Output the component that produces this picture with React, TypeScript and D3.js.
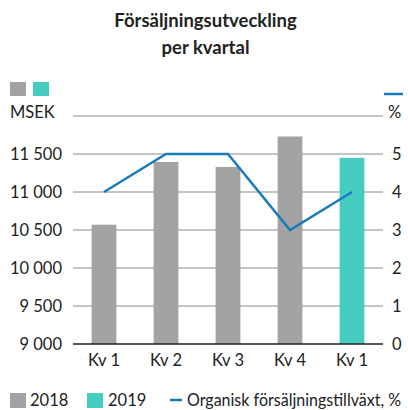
import React from "react";
import * as d3 from "d3";

const categories = ["Kv 1", "Kv 2", "Kv 3", "Kv 4", "Kv 1 "];
const salesValues = [10570, 11395, 11330, 11730, 11450];
const barYears = ["2018", "2018", "2018", "2018", "2019"];
const growthValues = [4, 5, 5, 3, 4];
const leftTicks = [9000, 9500, 10000, 10500, 11000, 11500];
const rightTicks = [0, 1, 2, 3, 4, 5];
const titleLines = ["Försäljningsutveckling", "per kvartal"];

const GRAY = "#a2a3a2";
const TEAL = "#45cec0";
const BLUE = "#1a7bbb";
const FONT = "Lato, 'Open Sans', 'DejaVu Sans', sans-serif";

const fmt = (v: number) => {
  const s = String(v);
  return s.length > 3 ? s.slice(0, s.length - 3) + " " + s.slice(-3) : s;
};

export default function App() {
  const W = 408, H = 410;
  const left = 73, right = 383, top = 116, bottom = 344;
  const x = d3.scaleBand<string>().domain(categories).range([left, right]).paddingInner(0.6).paddingOuter(0.3);
  const y = d3.scaleLinear().domain([9000, 12000]).range([bottom, top]);
  const y2 = d3.scaleLinear().domain([0, 6]).range([bottom, top]);
  const line = d3
    .line<number>()
    .x((_, i) => (x(categories[i]) as number) + x.bandwidth() / 2)
    .y((d) => y2(d));

  return (
    <svg width={W} height={H} style={{ position: "absolute", left: 0, top: 0 }} fontFamily={FONT}>
      {titleLines.map((t, i) => (
        <text key={i} x={205.5} y={27 + i * 26.5} textAnchor="middle" fontSize={18.5} fontWeight={700} fill="#222">
          {t}
        </text>
      ))}
      <rect x={10} y={82} width={16} height={14} fill={GRAY} />
      <rect x={33} y={82} width={16} height={14} fill={TEAL} />
      <line x1={384} x2={403} y1={94} y2={94} stroke={BLUE} strokeWidth={2.5} />
      <text x={10} y={118} fontSize={16.5} fill="#222">MSEK</text>
      <text x={388} y={118} fontSize={16.5} fill="#222">%</text>
      <line x1={left} x2={right} y1={top} y2={top} stroke="#8a8a8a" strokeWidth={1} />
      {leftTicks.map((t) => (
        <g key={t}>
          {t !== 9000 && <line x1={left} x2={right} y1={y(t)} y2={y(t)} stroke="#8a8a8a" strokeWidth={1} />}
          <text x={62} y={y(t) + 6} textAnchor="end" fontSize={16.5} fill="#222">
            {fmt(t)}
          </text>
        </g>
      ))}
      {rightTicks.map((t) => (
        <text key={t} x={392} y={y2(t) + 6} fontSize={16.5} fill="#222">
          {t}
        </text>
      ))}
      {categories.map((c, i) => (
        <rect
          key={c}
          x={x(c)}
          y={y(salesValues[i])}
          width={x.bandwidth()}
          height={bottom - y(salesValues[i])}
          fill={barYears[i] === "2019" ? TEAL : GRAY}
        />
      ))}
      <line x1={left} x2={right} y1={bottom} y2={bottom} stroke="#222" strokeWidth={1.5} />
      <path d={line(growthValues) || ""} fill="none" stroke={BLUE} strokeWidth={2.5} strokeLinejoin="miter" />
      {categories.map((c) => (
        <text key={c} x={(x(c) as number) + x.bandwidth() / 2} y={366} textAnchor="middle" fontSize={16.5} fill="#222">
          {c.trim()}
        </text>
      ))}
      <rect x={10} y={393} width={16} height={15} fill={GRAY} />
      <text x={30} y={406} fontSize={16.5} fill="#222">2018</text>
      <rect x={87} y={393} width={16} height={15} fill={TEAL} />
      <text x={108} y={406} fontSize={16.5} fill="#222">2019</text>
      <line x1={170} x2={182} y1={400} y2={400} stroke={BLUE} strokeWidth={2.5} />
      <text x={187} y={406} fontSize={16.5} fill="#222" textLength={214} lengthAdjust="spacingAndGlyphs">
        Organisk försäljningstillväxt, %
      </text>
    </svg>
  );
}
